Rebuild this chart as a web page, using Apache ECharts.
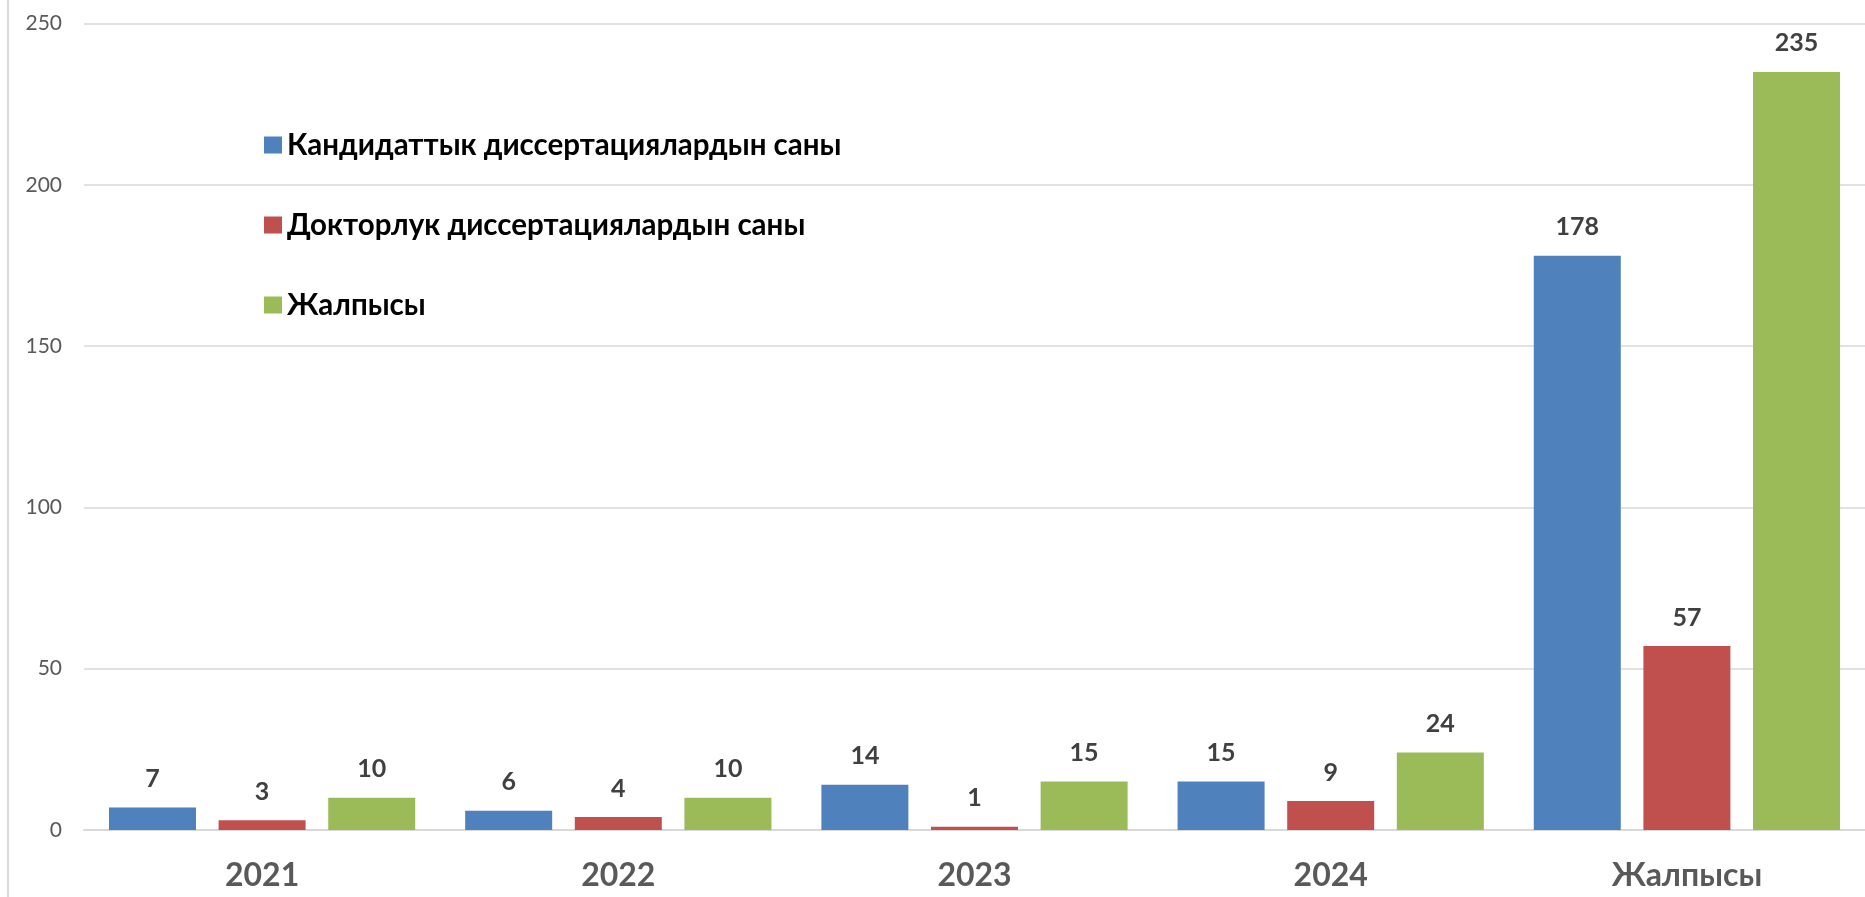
<!DOCTYPE html>
<html>
<head>
<meta charset="utf-8">
<script src="https://cdn.jsdelivr.net/npm/echarts@6/dist/echarts.min.js"></script>
<style>
  html, body { margin: 0; padding: 0; background: #ffffff; }
  #chart { width: 1865px; height: 897px; }
</style>
</head>
<body>
<div id="chart"></div>
<script>
// Categories (years plus the overall total) and the three series
const categories = ['2021', '2022', '2023', '2024', 'Жалпысы'];
const seriesNames = [
  'Кандидаттык диссертациялардын саны',
  'Докторлук диссертациялардын саны',
  'Жалпысы'
];
const candidateCounts = [7, 6, 14, 15, 178];
const doctoralCounts = [3, 4, 1, 9, 57];
const totalCounts = [10, 10, 15, 24, 235];
const seriesColors = ['#4F81BD', '#C0504D', '#9BBB59'];

const chart = echarts.init(document.getElementById('chart'), null, { renderer: 'canvas' });

function barSeries(name, values, color) {
  return {
    name: name,
    type: 'bar',
    data: values,
    barWidth: 87,
    barGap: '26%',
    itemStyle: { color: color },
    label: {
      show: true,
      position: 'top',
      distance: 16,
      fontFamily: 'Lato',
      fontWeight: 'bold',
      fontSize: 25,
      color: '#404040'
    }
  };
}

chart.setOption({
  animation: false,
  backgroundColor: '#ffffff',
  grid: { left: 84, right: 0, top: 23.5, bottom: 67 },
  legend: {
    orient: 'vertical',
    left: 264,
    top: 130,
    padding: 0,
    itemWidth: 18,
    itemHeight: 17,
    itemGap: 50,
    itemTextGap: 10,
    icon: 'rect',
    textStyle: {
      fontFamily: 'Lato',
      fontWeight: 'bold',
      fontSize: 29.5,
      lineHeight: 29,
      color: '#000000',
      padding: [0, 0, 0, 0]
    },
    data: seriesNames
  },
  xAxis: {
    type: 'category',
    data: categories,
    axisLine: { lineStyle: { color: '#d9d9d9', width: 2 } },
    axisTick: { show: false },
    axisLabel: {
      margin: 30,
      fontFamily: 'Lato',
      fontWeight: 'bold',
      fontSize: 32,
      color: '#595959'
    }
  },
  yAxis: {
    type: 'value',
    min: 0,
    max: 250,
    interval: 50,
    axisLine: { show: false },
    axisTick: { show: false },
    splitLine: { lineStyle: { color: '#d9d9d9', width: 1.5 } },
    axisLabel: {
      margin: 22,
      fontFamily: 'Lato',
      fontSize: 21,
      color: '#595959'
    }
  },
  graphic: [{
    type: 'line',
    shape: { x1: 8, y1: 0, x2: 8, y2: 897 },
    style: { stroke: '#d9d9d9', lineWidth: 2 },
    silent: true
  }],
  series: [
    barSeries(seriesNames[0], candidateCounts, seriesColors[0]),
    barSeries(seriesNames[1], doctoralCounts, seriesColors[1]),
    barSeries(seriesNames[2], totalCounts, seriesColors[2])
  ]
});
</script>
</body>
</html>
